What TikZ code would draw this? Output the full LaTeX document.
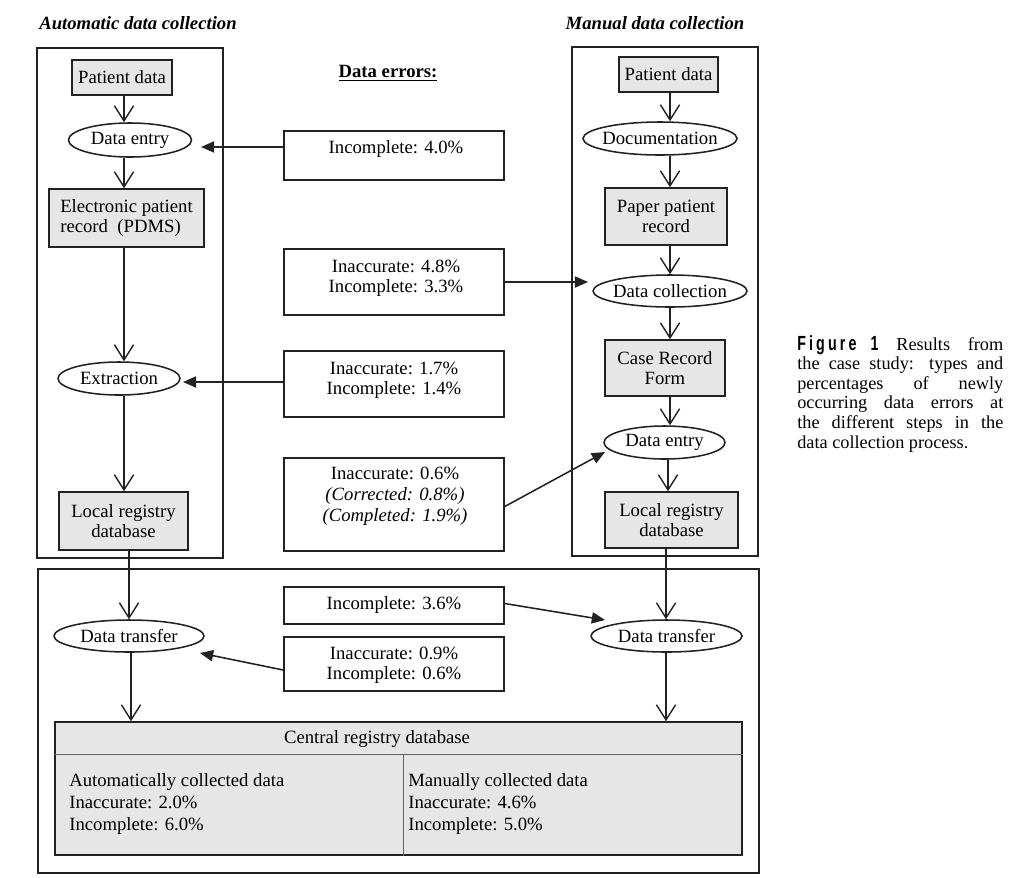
\documentclass[tikz,border=0pt]{standalone}
\usepackage{fontspec}
\setmainfont{Liberation Serif}
\newfontfamily\figfont[LetterSpace=22]{Liberation Sans}
\usepackage{graphicx}
\usetikzlibrary{arrows.meta,shapes.geometric}
\definecolor{boxgray}{HTML}{E6E6E6}
\definecolor{ink}{HTML}{222222}
\newcommand\mainfs{\fontsize{13.3}{14.2}\selectfont}
\newcommand\cenfs{\fontsize{13.3}{15.6}\selectfont}
\newcommand\capfs{\fontsize{13}{13.9}\selectfont}
\newcommand\capline[1]{\makebox[5.15cm][s]{#1}}
\tikzset{
  sz/.style 2 args={minimum width=#1*0.025cm, minimum height=#2*0.025cm},
  proc/.style={draw=ink, fill=boxgray, line width=1.1pt, inner sep=0pt, align=center, font=\mainfs},
  act/.style={ellipse, draw=ink, fill=white, line width=1.1pt, inner xsep=-20pt, inner ysep=-6pt, font=\mainfs},
  errbox/.style={draw=ink, line width=1.1pt, inner sep=0pt},
  etxt/.style={align=center, font=\mainfs, inner sep=0pt},
  frame/.style={draw=ink, line width=1.1pt, inner sep=0pt},
  vb/.style={draw=ink, line width=1pt, -{Straight Barb[length=0.38cm,width=0.48cm]}},
  tri/.style={draw=ink, line width=1.1pt, -{Triangle[length=0.33cm,width=0.28cm]}},
  ttl/.style={font=\mainfs\bfseries\itshape, inner sep=0pt}
}
\begin{document}
\begin{tikzpicture}[x=0.025cm,y=-0.025cm]
\useasboundingbox (0,0) rectangle (1024,877);
\fill[white] (0,0) rectangle (1024,877);

% titles
\node[ttl] (tauto) at (138,23) {Automatic data collection};
\node[ttl] (tman) at (655,23) {Manual data collection};
\node[font=\mainfs\bfseries, inner sep=0pt] (terr) at (388,73) {\underline{Data errors:}};

% frames
\node[frame, sz={186}{510}] (lframe) at (130,303) {};
\node[frame, sz={186}{509}] (rframe) at (665,301.5) {};
\node[frame, sz={721}{304}] (bframe) at (398.5,721) {};

% left column
\node[proc, sz={100}{35}] (lpd) at (122,77.5) {Patient data};
\node[act, sz={123}{34}] (lde) at (130,140) {Data entry};
\node[proc, sz={155}{58}, align=left] (epr) at (126.5,218) {Electronic patient\\record\ \ (PDMS)};
\node[act, sz={122}{33}] (lext) at (119,378.5) {Extraction};
\node[proc, sz={129}{58}] (llr) at (123.5,521) {Local registry\\database};

% right column
\node[proc, sz={99}{35}] (rpd) at (668.5,74.5) {Patient data};
\node[act, sz={154}{33}] (rdoc) at (660,138.5) {Documentation};
\node[proc, sz={122}{57}] (rppr) at (666,216.5) {Paper patient\\record};
\node[act, sz={154}{32}] (rdc) at (670,291) {Data collection};
\node[proc, sz={120}{56}] (rcrf) at (665,368) {Case Record\\Form};
\node[act, sz={121}{33}] (rde) at (664.5,442.5) {Data entry};
\node[proc, sz={133}{56}] (rlr) at (671.5,520) {Local registry\\database};

% bottom
\node[act, sz={150}{32}] (ldt) at (129,636) {Data transfer};
\node[act, sz={151}{32}] (rdt) at (666.5,636) {Data transfer};
\node[draw=ink, fill=boxgray, line width=1.1pt, inner sep=0pt, sz={687}{133}] (cen) at (398.5,788.5) {};
\coordinate (hdr) at (0,754);
\coordinate (dv) at (403,754);
\draw[draw=ink!70, line width=0.7pt] (cen.west |- hdr) -- (cen.east |- hdr);
\draw[draw=ink!70, line width=0.7pt] (dv) -- (dv |- cen.south);
\node[font=\mainfs, inner sep=0pt] (centt) at (377,739) {Central registry database};
\node[font=\cenfs, align=left, anchor=west, inner sep=0pt] (ctl) at (69,804) {Automatically collected data\\Inaccurate: 2.0\%\\Incomplete: 6.0\%};
\node[font=\cenfs, align=left, anchor=west, inner sep=0pt] (ctr) at (408,804) {Manually collected data\\Inaccurate: 4.6\%\\Incomplete: 5.0\%};

% error boxes
\node[errbox, sz={220}{49}] (b1) at (394,155.5) {};
\node[etxt] (b1t) at (396,149) {Incomplete: 4.0\%};
\node[errbox, sz={220}{66}] (b2) at (394,282) {};
\node[etxt] (b2t) at (396,278) {Inaccurate: 4.8\%\\Incomplete: 3.3\%};
\node[errbox, sz={220}{66}] (b3) at (394,384) {};
\node[etxt] (b3t) at (394,380) {Inaccurate: 1.7\%\\Incomplete: 1.4\%};
\node[errbox, sz={220}{93}] (b4) at (394,504.5) {};
\node[etxt, font=\fontsize{13.3}{14.9}\selectfont] (b4t) at (395,496) {Inaccurate: 0.6\%\\\textit{(Corrected: 0.8\%)}\\\textit{(Completed: 1.9\%)}};
\node[errbox, sz={220}{37}] (b5) at (394,605.5) {};
\node[etxt] (b5t) at (394,605) {Incomplete: 3.6\%};
\node[errbox, sz={220}{54}] (b6) at (394,664) {};
\node[etxt] (b6t) at (394,665.5) {Inaccurate: 0.9\%\\Incomplete: 0.6\%};

% vertical flow arrows
\coordinate (lx) at (124,0);
\coordinate (lx2) at (129,0);
\coordinate (lx3) at (131,0);
\draw[vb] (lpd.south -| lx) -- (lde.north -| lx);
\draw[vb] (lde.south -| lx) -- (epr.north -| lx);
\draw[vb] (epr.south -| lx) -- (lext.north -| lx);
\draw[vb] (lext.south -| lx) -- (llr.north -| lx);
\draw[vb] (llr.south -| lx2) -- (ldt.north -| lx2);
\draw[vb] (ldt.south -| lx3) -- (cen.north -| lx3);

\coordinate (rx) at (670,0);
\coordinate (rx2) at (668,0);
\coordinate (rx3) at (666,0);
\draw[vb] (rpd.south -| rx) -- (rdoc.north -| rx);
\draw[vb] (rdoc.south -| rx) -- (rppr.north -| rx);
\draw[vb] (rppr.south -| rx) -- (rdc.north -| rx);
\draw[vb] (rdc.south -| rx) -- (rcrf.north -| rx);
\draw[vb] (rcrf.south -| rx) -- (rde.north -| rx);
\draw[vb] (rde.south -| rx2) -- (rlr.north -| rx2);
\draw[vb] (rlr.south -| rx3) -- (rdt.north -| rx3);
\draw[vb] (rdt.south -| rx3) -- (cen.north -| rx3);

% error arrows
\coordinate (a1) at (201,147);
\coordinate (a2) at (588,282);
\coordinate (a3) at (183,382);
\coordinate (a4) at (605,452);
\coordinate (a5) at (605,620);
\coordinate (a6) at (200,653);
\draw[tri] (b1.west |- a1) -- (a1);
\draw[tri] (b2.east |- a2) -- (a2);
\draw[tri] (b3.west |- a3) -- (a3);
\draw[tri] ([yshift=-0.05cm]b4.east) -- (a4);
\draw[tri] ([yshift=0.05cm]b5.east) -- (a5);
\draw[tri] ([yshift=-0.15cm]b6.west) -- (a6);

% caption
\node[font=\capfs, align=left, anchor=base west, inner sep=0pt] (cap) at (797,448) {%
\capline{\scalebox{0.78}[1.12]{\figfont\bfseries Figure\ \ 1} Results from}\\
\capline{the case study: types and}\\
\capline{percentages of newly}\\
\capline{occurring data errors at}\\
\capline{the different steps in the}\\
data collection process.};
\end{tikzpicture}
\end{document}
